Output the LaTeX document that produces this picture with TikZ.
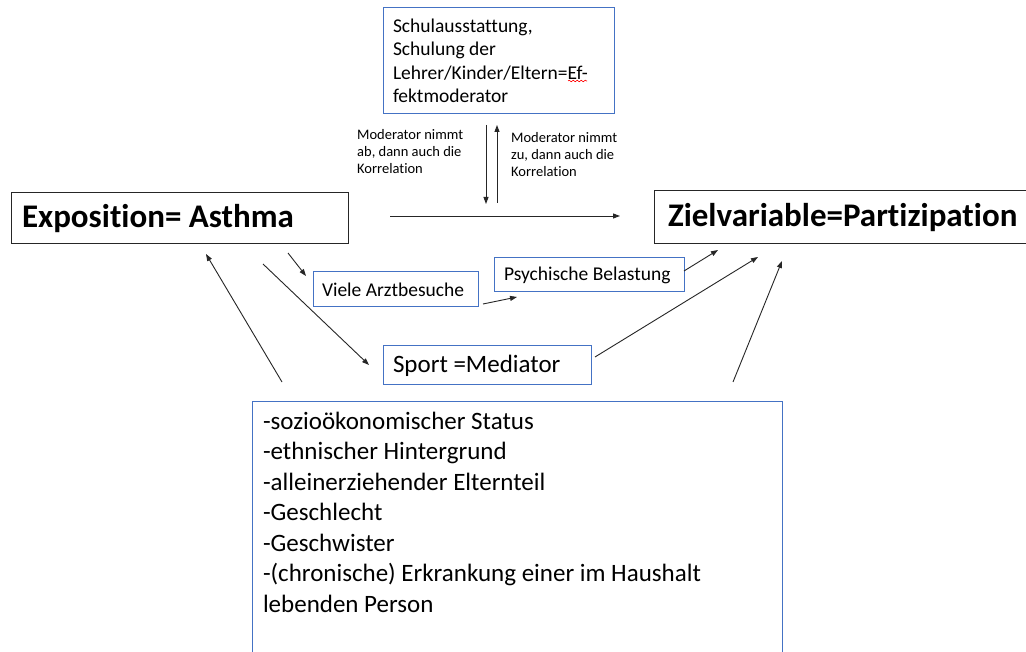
\documentclass[tikz,border=0pt]{standalone}
\usepackage{fontspec}
\setmainfont{Carlito}[Ligatures=NoCommon]
\usetikzlibrary{arrows.meta,decorations.pathmorphing}
\definecolor{wordblue}{HTML}{4472C4}

\begin{document}
\begin{tikzpicture}[
      x=1pt, y=-1pt,
      my box/.style ={draw=#1, line width=1pt, anchor=north west, align=flush left, inner ysep=0pt},
      my box/.default=wordblue,
      big text/.style={font=\bfseries\fontsize{33}{39}\selectfont},
      mid text/.style={font=\fontsize{19.5}{23.4}\selectfont},
      note text/.style={anchor=north west, align=flush left, inner sep=0pt, font=\fontsize{14.5}{17.3}\selectfont},
      my arrow/.style={-{Triangle[length=7pt,width=5pt]}, line width=0.9pt, draw=black!85}]
    \clip (0,0) rectangle (1026,652);
    \fill[white] (0,0) rectangle (1026,652);
    % boxes
    \node (expo) [my box=black!85, big text, inner xsep=11pt, text width=315pt, minimum height=51pt] at (10.5,192.5)
      {Exposition= Asthma};
    \node (ziel) [my box=black!85, big text, inner xsep=14pt, text width=360pt, minimum height=53pt] at (653.5,190.5)
      {Zielvariable=Partizipation};
    \node (moder) [my box, mid text, inner xsep=10pt, text width=211pt, minimum height=106pt] at (382.5,7.5)
      {Schulausstattung,\\ Schulung der\\ Lehrer/Kinder/Eltern=Ef-\\ fektmoderator};
    \node (arzt) [my box, mid text, inner xsep=9pt, text width=147pt, minimum height=35pt] at (312.5,271.5)
      {Viele Arztbesuche};
    \node (psych) [my box, mid text, inner xsep=10pt, text width=170pt, minimum height=34pt] at (493.5,257.5)
      {Psychische Belastung};
    \node (sport) [my box, font=\fontsize{25}{30}\selectfont, inner xsep=10pt, text width=188pt, minimum height=39pt] at (382.5,345.5)
      {Sport =Mediator};
    \node (conf) [my box, inner xsep=11pt, inner ysep=10pt] at (251.5,401.5)
      {\begin{minipage}[t][300pt][t]{508pt}\fontsize{25}{30.5}\selectfont
       -sozioökonomischer Status\\
       -ethnischer Hintergrund\\
       -alleinerziehender Elternteil\\
       -Geschlecht\\
       -Geschwister\\
       -(chronische) Erkrankung einer im Haushalt\\
       lebenden Person
       \end{minipage}};
    \node (ab) [note text] at (357,129) {Moderator nimmt\\ ab, dann auch die\\ Korrelation};
    \node (zu) [note text] at (511,132) {Moderator nimmt\\ zu, dann auch die\\ Korrelation};
    \draw[red, line width=0.6pt, decorate, decoration={snake, segment length=4pt, amplitude=0.8pt}] (568,81) -- (587,81);
    % connectors
    \coordinate (expo out) at (390,216);
    \coordinate (ziel in) at (620,216);
    \coordinate (ab top) at (486,125);
    \coordinate (ab end) at (486,204);
    \coordinate (zu start) at (497,203);
    \coordinate (zu top) at (497,125);
    \coordinate (expo a) at (288,253);
    \coordinate (arzt in) at (306,276);
    \coordinate (expo b) at (263,264);
    \coordinate (sport in) at (369,365);
    \coordinate (conf a) at (282,382);
    \coordinate (expo in) at (206,254);
    \coordinate (arzt out) at (483,304);
    \coordinate (psych in) at (517,297);
    \coordinate (psych out) at (684,271);
    \coordinate (ziel a) at (718,250);
    \coordinate (sport out) at (595,357);
    \coordinate (ziel b) at (758,257);
    \coordinate (conf b) at (733,382);
    \coordinate (ziel c) at (782,261);
    \draw[my arrow] (expo out) -- (ziel in);
    \draw[my arrow] (ab top) -- (ab end);
    \draw[my arrow] (zu start) -- (zu top);
    \draw[my arrow] (expo a) -- (arzt in);
    \draw[my arrow] (expo b) -- (sport in);
    \draw[my arrow] (conf a) -- (expo in);
    \draw[my arrow] (arzt out) -- (psych in);
    \draw[my arrow] (psych out) -- (ziel a);
    \draw[my arrow] (sport out) -- (ziel b);
    \draw[my arrow] (conf b) -- (ziel c);
    \end{tikzpicture}
\end{document}
